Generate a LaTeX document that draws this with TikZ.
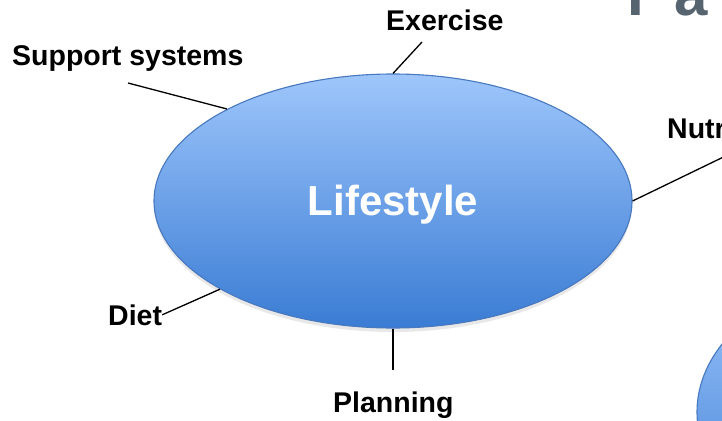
\documentclass[tikz,border=0pt]{standalone}
\usepackage{fontspec}
\setmainfont{Liberation Sans}
\usetikzlibrary{shapes.geometric,shadows}
\definecolor{elltop}{RGB}{158,198,251}
\definecolor{ellbot}{RGB}{58,124,212}
\definecolor{ellline}{RGB}{72,120,190}
\definecolor{titlegray}{RGB}{86,100,112}
\begin{document}
\begin{tikzpicture}[x=1pt,y=-1pt,
  lbl/.style={font=\fontsize{28.5}{30}\selectfont\bfseries, inner sep=0pt, anchor=base west},
  conn/.style={draw=black, line width=1.3pt},
  bubble/.style={ellipse, draw=ellline, line width=1.1pt, top color=elltop, bottom color=ellbot, inner sep=0pt}]
\useasboundingbox (0,0) rectangle (722,420);
\clip (0,0) rectangle (722,420);
\node[text=titlegray, font=\fontsize{60}{60}\selectfont\bfseries, anchor=base west, inner sep=0pt] (title) at (627,16) {F\kern11pt a};
\node[bubble, minimum width=478pt, minimum height=254pt,
      drop shadow={opacity=0.18, shadow xshift=0pt, shadow yshift=-4pt}] (life) at (393,201) {};
\node[text=white, font=\fontsize{42}{42}\selectfont\bfseries, anchor=base, inner sep=0pt] (lifetxt) at (393,215) {Lifestyle};
\node[bubble, minimum width=400pt, minimum height=280pt] (other) at (897,412) {};
\node[lbl] (support) at (12,65) {Support systems};
\node[lbl] (exercise) at (386,31) {Exercise};
\node[lbl] (nutr) at (667,138) {Nutr};
\node[lbl] (diet) at (108,325) {Diet};
\node[lbl] (plan) at (333,412) {Planning};
\coordinate (cs) at (128,83);
\coordinate (ce) at (422,42);
\coordinate (cn) at (740,149);
\coordinate (cp) at (393,370);
\draw[conn] (cs) -- (life.151);
\draw[conn] (ce) -- (life.north);
\draw[conn] (life.east) -- (cn);
\draw[conn] (diet.east) -- (life.207.6);
\draw[conn] (life.south) -- (cp);
\end{tikzpicture}
\end{document}
